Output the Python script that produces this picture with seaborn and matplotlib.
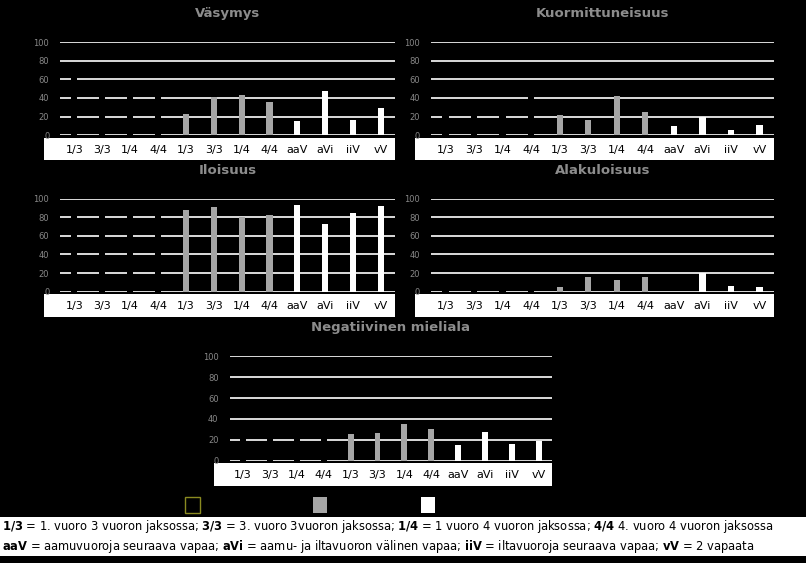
import matplotlib
matplotlib.use("Agg")
import matplotlib.pyplot as plt
import seaborn as sns
import pandas as pd
from matplotlib.patches import Rectangle

# Data
bar_labels = ["1/3", "3/3", "1/4", "4/4", "1/3", "3/3", "1/4", "4/4", "aaV", "aVi", "iiV", "vV"]
groups = ["black"] * 4 + ["gray"] * 4 + ["white"] * 4

vasymys = [62, 45, 42, 44, 23, 41, 43, 36, 15, 47, 16, 29]
kuormittuneisuus = [30, 30, 25, 45, 22, 16, 42, 25, 10, 20, 6, 11]
iloisuus = [88, 86, 85, 86, 88, 91, 80, 83, 93, 73, 85, 92]
alakuloisuus = [5, 4, 4, 4, 5, 16, 12, 16, 0, 20, 6, 5]
negatiivinen = [24, 23, 22, 23, 25, 26, 35, 30, 15, 27, 16, 19]

colors = {"black": "#000000", "gray": "#a6a6a6", "white": "#ffffff"}

panels = [
    ("Väsymys", vasymys, [0.075, 0.76, 0.415, 0.165]),
    ("Kuormittuneisuus", kuormittuneisuus, [0.535, 0.76, 0.425, 0.165]),
    ("Iloisuus", iloisuus, [0.075, 0.482, 0.415, 0.165]),
    ("Alakuloisuus", alakuloisuus, [0.535, 0.482, 0.425, 0.165]),
    ("Negatiivinen mieliala", negatiivinen, [0.285, 0.182, 0.4, 0.185]),
]

fig = plt.figure(figsize=(8.06, 5.63), dpi=100, facecolor="black")

for title, values, rect in panels:
    # white label strip below the plot
    x0, y0, w, h = rect
    fig.patches.append(Rectangle((x0 - 0.02, y0 - 0.045), w + 0.02, 0.04,
                                 transform=fig.transFigure, facecolor="white",
                                 edgecolor="none", zorder=-5))

    ax = fig.add_axes(rect)
    ax.set_zorder(2)
    ax.patch.set_alpha(0)
    df = pd.DataFrame({"pos": range(len(values)), "value": values, "group": groups})
    for y in range(0, 101, 20):
        ax.axhline(y, color="white", lw=1.2, zorder=0)
    sns.barplot(data=df, x="pos", y="value", hue="group", palette=colors,
                dodge=False, width=0.22, legend=False, ax=ax, zorder=2)
    ax.set_ylim(0, 100)
    ax.set_yticks(range(0, 101, 20))
    ax.tick_params(axis="y", colors="#888888", labelsize=6, length=0, pad=8)
    ax.set_xticks(range(len(values)))
    ax.set_xticklabels(bar_labels, fontsize=8, color="black")
    ax.tick_params(axis="x", length=0, pad=7)
    ax.set_xlabel("")
    ax.set_ylabel("")
    for s in ax.spines.values():
        s.set_visible(False)
    ax.set_title(title, color="#8c8c8c", fontsize=9.5, fontweight="bold", pad=18)

# legend squares
fig.patches.append(Rectangle((0.23, 0.088), 0.018, 0.03, transform=fig.transFigure,
                             facecolor="black", edgecolor="#8a8a20", lw=1))
fig.patches.append(Rectangle((0.388, 0.088), 0.018, 0.03, transform=fig.transFigure,
                             facecolor="#a6a6a6", edgecolor="none"))
fig.patches.append(Rectangle((0.522, 0.088), 0.018, 0.03, transform=fig.transFigure,
                             facecolor="white", edgecolor="none"))

# explanation box
fig.patches.append(Rectangle((0.0, 0.012), 1.0, 0.07, transform=fig.transFigure,
                             facecolor="white", edgecolor="none"))
fig.text(0.002, 0.064,
         r"$\bf{1/3}$ = 1. vuoro 3 vuoron jaksossa; $\bf{3/3}$ = 3. vuoro 3vuoron jaksossa; "
         r"$\bf{1/4}$ = 1 vuoro 4 vuoron jaksossa; $\bf{4/4}$ 4. vuoro 4 vuoron jaksossa",
         fontsize=8.3, color="black", va="center")
fig.text(0.002, 0.030,
         r"$\bf{aaV}$ = aamuvuoroja seuraava vapaa; $\bf{aVi}$ = aamu- ja iltavuoron välinen vapaa; "
         r"$\bf{iiV}$ = iltavuoroja seuraava vapaa; $\bf{vV}$ = 2 vapaata",
         fontsize=8.3, color="black", va="center")

fig.savefig("out.png", dpi=100, facecolor="black")
